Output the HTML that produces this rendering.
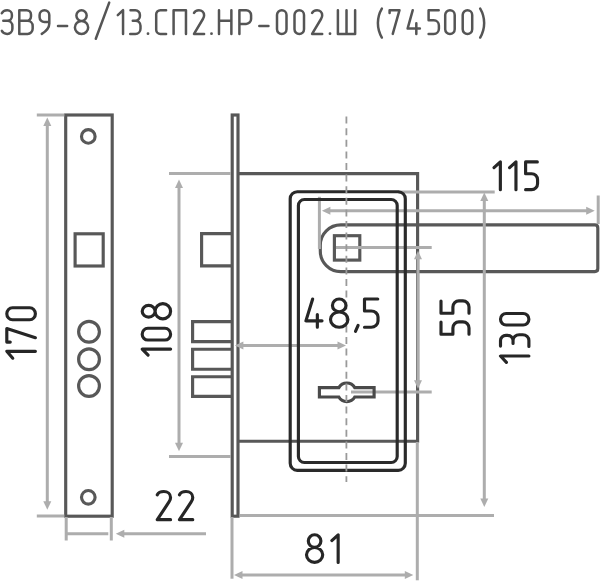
<!DOCTYPE html>
<html><head><meta charset="utf-8"><title>Lock</title>
<style>html,body{margin:0;padding:0;background:#fff;width:600px;height:581px;overflow:hidden;font-family:"Liberation Sans",sans-serif;}
svg{display:block}</style></head>
<body><svg width="600" height="581" viewBox="0 0 600 581"><path transform="translate(1.80,10.20) scale(0.9900,0.9875)" d="M0,3.1 C0.9,1.1 2.9,0 5.4,0 H5.6 A4.6,4.6 0 0 1 10.2,4.6 V6.2 A4.6,4.6 0 0 1 5.6,10.8 H1.5 M5.6,10.8 A5.1,5.1 0 0 1 10.7,15.9 V18.9 A5.1,5.1 0 0 1 5.6,24 H5.4 C2.9,24 0.9,22.9 0,20.9" fill="none" stroke="#555" stroke-width="2.5" vector-effect="non-scaling-stroke" stroke-linecap="round" stroke-linejoin="round"/><path transform="translate(19.30,10.20) scale(0.9900,0.9875)" d="M0,24 V0 H7.4 A4.4,4.4 0 0 1 11.8,4.4 V6.4 A4.4,4.4 0 0 1 7.4,10.8 H0 M7.4,10.8 H8.4 A5.1,5.1 0 0 1 13.5,15.9 V18.9 A5.1,5.1 0 0 1 8.4,24 H0" fill="none" stroke="#555" stroke-width="2.5" vector-effect="non-scaling-stroke" stroke-linecap="round" stroke-linejoin="round"/><path transform="translate(39.60,10.20) scale(0.9900,0.9875)" d="M9.8,4.9 A4.9,4.9 0 0 0 0,4.9 V7.2 A4.8,4.8 0 0 0 4.8,12 H9.8 M9.8,4.9 V13.5 C9.8,17.5 7.2,21 2.2,24" fill="none" stroke="#555" stroke-width="2.5" vector-effect="non-scaling-stroke" stroke-linecap="round" stroke-linejoin="round"/><path transform="translate(58.00,10.20) scale(0.9900,0.9875)" d="M0,16 H9.2" fill="none" stroke="#555" stroke-width="2.5" vector-effect="non-scaling-stroke" stroke-linecap="round" stroke-linejoin="round"/><path transform="translate(74.90,10.20) scale(0.9900,0.9875)" d="M6.7,10.9 A5.2,5.45 0 1 1 6.7,0 A5.2,5.45 0 1 1 6.7,10.9 Z M6.7,10.9 A6.7,6.55 0 1 1 6.7,24 A6.7,6.55 0 1 1 6.7,10.9 Z" fill="none" stroke="#555" stroke-width="2.5" vector-effect="non-scaling-stroke" stroke-linecap="round" stroke-linejoin="round"/><path transform="translate(117.80,10.20) scale(0.9900,0.9875)" d="M0,5.0 L5.3,0 V24" fill="none" stroke="#555" stroke-width="2.5" vector-effect="non-scaling-stroke" stroke-linecap="round" stroke-linejoin="round"/><path transform="translate(130.20,10.20) scale(0.9900,0.9875)" d="M0.3,0 H5.2 A4.6,4.6 0 0 1 9.8,4.6 V6 A4.6,4.6 0 0 1 5.2,10.6 H2.6 M5.2,10.6 A5.2,5.2 0 0 1 10.4,15.8 V18.8 A5.2,5.2 0 0 1 5.2,24 H0" fill="none" stroke="#555" stroke-width="2.5" vector-effect="non-scaling-stroke" stroke-linecap="round" stroke-linejoin="round"/><circle cx="148.00" cy="33.70" r="1.38" fill="#555"/><path transform="translate(156.20,10.20) scale(0.9900,0.9875)" d="M10,0 H4.2 A4.2,4.2 0 0 0 0,4.2 V19.8 A4.2,4.2 0 0 0 4.2,24 H10" fill="none" stroke="#555" stroke-width="2.5" vector-effect="non-scaling-stroke" stroke-linecap="round" stroke-linejoin="round"/><path transform="translate(173.60,10.20) scale(0.9900,0.9875)" d="M0,24 V0 H12.5 V24" fill="none" stroke="#555" stroke-width="2.5" vector-effect="non-scaling-stroke" stroke-linecap="round" stroke-linejoin="round"/><path transform="translate(194.00,10.20) scale(0.9900,0.9875)" d="M0,2.8 C0.8,1 2.6,0 5,0 C7.9,0 10.2,2.1 10.2,5.1 C10.2,6.6 9.7,7.8 9,8.9 L0,24 H10.2" fill="none" stroke="#555" stroke-width="2.5" vector-effect="non-scaling-stroke" stroke-linecap="round" stroke-linejoin="round"/><circle cx="211.50" cy="33.70" r="1.38" fill="#555"/><path transform="translate(219.00,10.20) scale(0.9900,0.9875)" d="M0,0 V24 M12.5,0 V24 M0,10.6 H12.5" fill="none" stroke="#555" stroke-width="2.5" vector-effect="non-scaling-stroke" stroke-linecap="round" stroke-linejoin="round"/><path transform="translate(239.40,10.20) scale(0.9900,0.9875)" d="M0,24 V0 H6.8 A5,5 0 0 1 11.8,5 V8.9 A5,5 0 0 1 6.8,13.9 H0" fill="none" stroke="#555" stroke-width="2.5" vector-effect="non-scaling-stroke" stroke-linecap="round" stroke-linejoin="round"/><path transform="translate(259.30,10.20) scale(0.9900,0.9875)" d="M0,16 H9.2" fill="none" stroke="#555" stroke-width="2.5" vector-effect="non-scaling-stroke" stroke-linecap="round" stroke-linejoin="round"/><path transform="translate(277.00,10.20) scale(0.9900,0.9875)" d="M0,4.8 A4.8,4.8 0 0 1 9.6,4.8 V19.2 A4.8,4.8 0 0 1 0,19.2 Z" fill="none" stroke="#555" stroke-width="2.5" vector-effect="non-scaling-stroke" stroke-linecap="round" stroke-linejoin="round"/><path transform="translate(294.50,10.20) scale(0.9900,0.9875)" d="M0,4.8 A4.8,4.8 0 0 1 9.6,4.8 V19.2 A4.8,4.8 0 0 1 0,19.2 Z" fill="none" stroke="#555" stroke-width="2.5" vector-effect="non-scaling-stroke" stroke-linecap="round" stroke-linejoin="round"/><path transform="translate(312.10,10.20) scale(0.9900,0.9875)" d="M0,2.8 C0.8,1 2.6,0 5,0 C7.9,0 10.2,2.1 10.2,5.1 C10.2,6.6 9.7,7.8 9,8.9 L0,24 H10.2" fill="none" stroke="#555" stroke-width="2.5" vector-effect="non-scaling-stroke" stroke-linecap="round" stroke-linejoin="round"/><circle cx="330.00" cy="33.70" r="1.38" fill="#555"/><path transform="translate(337.90,10.20) scale(0.9900,0.9875)" d="M0,0 V24 H17.4 V0 M8.7,0 V24" fill="none" stroke="#555" stroke-width="2.5" vector-effect="non-scaling-stroke" stroke-linecap="round" stroke-linejoin="round"/><path transform="translate(377.90,10.20) scale(0.9900,0.9875)" d="M4.0,-1.7 A29,29 0 0 0 4.0,27.7" fill="none" stroke="#555" stroke-width="2.5" vector-effect="non-scaling-stroke" stroke-linecap="round" stroke-linejoin="round"/><path transform="translate(389.60,10.20) scale(0.9900,0.9875)" d="M0,2.9 V0 H10 L3.2,24" fill="none" stroke="#555" stroke-width="2.5" vector-effect="non-scaling-stroke" stroke-linecap="round" stroke-linejoin="round"/><path transform="translate(407.60,10.20) scale(0.9900,0.9875)" d="M5.2,0 L0,18.6 H12.4 M8.8,13.2 V24" fill="none" stroke="#555" stroke-width="2.5" vector-effect="non-scaling-stroke" stroke-linecap="round" stroke-linejoin="round"/><path transform="translate(428.60,10.20) scale(0.9900,0.9875)" d="M10.2,0 H0 V10.2 H5.2 A5.2,5.2 0 0 1 10.4,15.4 V18.8 A5.2,5.2 0 0 1 5.2,24 H0" fill="none" stroke="#555" stroke-width="2.5" vector-effect="non-scaling-stroke" stroke-linecap="round" stroke-linejoin="round"/><path transform="translate(445.20,10.20) scale(0.9900,0.9875)" d="M0,4.8 A4.8,4.8 0 0 1 9.6,4.8 V19.2 A4.8,4.8 0 0 1 0,19.2 Z" fill="none" stroke="#555" stroke-width="2.5" vector-effect="non-scaling-stroke" stroke-linecap="round" stroke-linejoin="round"/><path transform="translate(462.70,10.20) scale(0.9900,0.9875)" d="M0,4.8 A4.8,4.8 0 0 1 9.6,4.8 V19.2 A4.8,4.8 0 0 1 0,19.2 Z" fill="none" stroke="#555" stroke-width="2.5" vector-effect="non-scaling-stroke" stroke-linecap="round" stroke-linejoin="round"/><path transform="translate(480.20,10.20) scale(0.9900,0.9875)" d="M0,-1.7 A29,29 0 0 1 0,27.7" fill="none" stroke="#555" stroke-width="2.5" vector-effect="non-scaling-stroke" stroke-linecap="round" stroke-linejoin="round"/><line x1="95.8" y1="38.8" x2="109.2" y2="2.6" stroke="#555" stroke-width="2.5" stroke-linecap="round"/><rect x="65.7" y="115" width="46.5" height="401.2" fill="none" stroke="#585858" stroke-width="3.15"/><circle cx="88.3" cy="136.4" r="6.8" fill="none" stroke="#585858" stroke-width="3.15"/><circle cx="88.3" cy="497.3" r="6.8" fill="none" stroke="#585858" stroke-width="3.15"/><rect x="75.1" y="233.8" width="28.1" height="32.2" fill="none" stroke="#585858" stroke-width="3.15"/><circle cx="89" cy="331.8" r="10.4" fill="none" stroke="#585858" stroke-width="3.15"/><circle cx="89" cy="359.2" r="10.4" fill="none" stroke="#585858" stroke-width="3.15"/><circle cx="89" cy="386.0" r="10.4" fill="none" stroke="#585858" stroke-width="3.15"/><rect x="232.2" y="115" width="5.8" height="401.2" fill="none" stroke="#585858" stroke-width="3.15"/><polyline points="238.0,173.6 417.6,173.6 417.6,441.2 238.0,441.2" fill="none" stroke="#585858" stroke-width="3.15"/><polyline points="232.2,233.6 201.6,233.6 201.6,265.9 232.2,265.9" fill="none" stroke="#585858" stroke-width="3.15"/><polyline points="232.2,321.6 192.6,321.6 192.6,341.6 232.2,341.6" fill="none" stroke="#585858" stroke-width="3.15"/><polyline points="232.2,349.2 192.6,349.2 192.6,369.2 232.2,369.2" fill="none" stroke="#585858" stroke-width="3.15"/><polyline points="232.2,376.7 192.6,376.7 192.6,396.4 232.2,396.4" fill="none" stroke="#585858" stroke-width="3.15"/><path d="M340.8,224.9 H594.8 Q597.8,224.9 597.8,227.9 V268.6 Q597.8,271.6 594.8,271.6 H340.8 A20.5,20.5 0 0 1 320.3,251.10000000000002 V245.4 A20.5,20.5 0 0 1 340.8,224.9 Z" fill="none" stroke="#585858" stroke-width="3.15"/><rect x="334.4" y="235.7" width="25.4" height="24.4" fill="none" stroke="#585858" stroke-width="3.15"/><line x1="36.8" y1="115" x2="64.3" y2="115" stroke="#adadad" stroke-width="3.0" /><line x1="36.8" y1="516" x2="64.3" y2="516" stroke="#adadad" stroke-width="3.0" /><line x1="47.3" y1="124" x2="47.3" y2="503" stroke="#adadad" stroke-width="3.0" /><polygon points="47.30,117.40 43.30,125.90 51.30,125.90" fill="#adadad"/><polygon points="47.30,509.70 43.30,501.20 51.30,501.20" fill="#adadad"/><line x1="66.2" y1="517" x2="66.2" y2="540.5" stroke="#adadad" stroke-width="3.0" /><line x1="111.3" y1="517" x2="111.3" y2="540.5" stroke="#adadad" stroke-width="3.0" /><line x1="66.2" y1="533.8" x2="108.3" y2="533.8" stroke="#adadad" stroke-width="3.0" /><line x1="123" y1="533.8" x2="206" y2="533.8" stroke="#adadad" stroke-width="3.0" /><polygon points="115.80,533.80 124.30,529.80 124.30,537.80" fill="#adadad"/><line x1="169" y1="173.6" x2="231" y2="173.6" stroke="#adadad" stroke-width="3.0" /><line x1="169" y1="456.6" x2="231" y2="456.6" stroke="#adadad" stroke-width="3.0" /><line x1="179" y1="186" x2="179" y2="444" stroke="#adadad" stroke-width="3.0" /><polygon points="179.00,179.50 175.00,188.00 183.00,188.00" fill="#adadad"/><polygon points="179.00,451.20 175.00,442.70 183.00,442.70" fill="#adadad"/><line x1="242" y1="345.6" x2="339" y2="345.6" stroke="#adadad" stroke-width="3.0" /><polygon points="234.90,345.60 243.40,341.60 243.40,349.60" fill="#adadad"/><polygon points="346.00,345.60 337.50,341.60 337.50,349.60" fill="#adadad"/><line x1="319.4" y1="196.8" x2="319.4" y2="249" stroke="#adadad" stroke-width="3.0" /><line x1="598.2" y1="195.5" x2="598.2" y2="224" stroke="#adadad" stroke-width="3.0" /><line x1="330" y1="210.8" x2="587" y2="210.8" stroke="#adadad" stroke-width="3.0" /><polygon points="321.90,210.80 330.40,206.80 330.40,214.80" fill="#adadad"/><polygon points="594.70,210.80 586.20,206.80 586.20,214.80" fill="#adadad"/><line x1="336" y1="247.4" x2="431.7" y2="247.4" stroke="#adadad" stroke-width="3.0" /><line x1="351" y1="392" x2="431.7" y2="392" stroke="#adadad" stroke-width="3.0" /><line x1="418" y1="258" x2="418" y2="382" stroke="#adadad" stroke-width="3.0" /><polygon points="418.00,250.80 414.00,259.30 422.00,259.30" fill="#adadad"/><polygon points="418.00,388.80 414.00,380.30 422.00,380.30" fill="#adadad"/><line x1="398" y1="192" x2="494.7" y2="192" stroke="#adadad" stroke-width="3.0" /><line x1="240" y1="515.6" x2="494" y2="515.6" stroke="#adadad" stroke-width="3.0" /><line x1="484.3" y1="200" x2="484.3" y2="499" stroke="#adadad" stroke-width="3.0" /><polygon points="484.30,192.60 480.30,201.10 488.30,201.10" fill="#adadad"/><polygon points="484.30,507.00 480.30,498.50 488.30,498.50" fill="#adadad"/><line x1="232.0" y1="517" x2="232.0" y2="578.7" stroke="#adadad" stroke-width="3.0" /><line x1="417.3" y1="442" x2="417.3" y2="580.3" stroke="#adadad" stroke-width="3.0" /><line x1="241" y1="575" x2="406" y2="575" stroke="#adadad" stroke-width="3.0" /><polygon points="234.00,575.00 242.50,571.00 242.50,579.00" fill="#adadad"/><polygon points="413.30,575.00 404.80,571.00 404.80,579.00" fill="#adadad"/><rect x="290.2" y="191.7" width="115.1" height="278.6" rx="7" fill="none" stroke="#2a2a2a" stroke-width="3.15"/><rect x="298.4" y="199.5" width="98.8" height="263.0" rx="6" fill="none" stroke="#2a2a2a" stroke-width="3.15"/><path d="M319.4,387.6 H338.83 A9.2,9.2 0 0 1 354.77,387.6 H374.1 V397.0 H354.77 A9.2,9.2 0 0 1 338.83,397.0 H319.4 Z" fill="none" stroke="#4a4a4a" stroke-width="3.15"/><line x1="346.4" y1="116.6" x2="346.4" y2="482" stroke="#9a9a9a" stroke-width="1.8" stroke-dasharray="7 4.6"/><path transform="translate(306.50,534.80) scale(1.2100,1.1500)" d="M6.7,10.9 A5.2,5.45 0 1 1 6.7,0 A5.2,5.45 0 1 1 6.7,10.9 Z M6.7,10.9 A6.7,6.55 0 1 1 6.7,24 A6.7,6.55 0 1 1 6.7,10.9 Z" fill="none" stroke="#262626" stroke-width="3.15" vector-effect="non-scaling-stroke" stroke-linecap="round" stroke-linejoin="round"/><path transform="translate(331.80,534.80) scale(1.2000,1.1500)" d="M0,5.0 L5.3,0 V24" fill="none" stroke="#262626" stroke-width="3.15" vector-effect="non-scaling-stroke" stroke-linecap="round" stroke-linejoin="round"/><path transform="translate(157.30,491.50) scale(1.3000,1.1750)" d="M0,2.8 C0.8,1 2.6,0 5,0 C7.9,0 10.2,2.1 10.2,5.1 C10.2,6.6 9.7,7.8 9,8.9 L0,24 H10.2" fill="none" stroke="#262626" stroke-width="3.15" vector-effect="non-scaling-stroke" stroke-linecap="round" stroke-linejoin="round"/><path transform="translate(179.50,491.50) scale(1.3000,1.1750)" d="M0,2.8 C0.8,1 2.6,0 5,0 C7.9,0 10.2,2.1 10.2,5.1 C10.2,6.6 9.7,7.8 9,8.9 L0,24 H10.2" fill="none" stroke="#262626" stroke-width="3.15" vector-effect="non-scaling-stroke" stroke-linecap="round" stroke-linejoin="round"/><path transform="translate(494.00,161.90) scale(1.2000,1.1583)" d="M0,5.0 L5.3,0 V24" fill="none" stroke="#262626" stroke-width="3.15" vector-effect="non-scaling-stroke" stroke-linecap="round" stroke-linejoin="round"/><path transform="translate(509.60,161.90) scale(1.2000,1.1583)" d="M0,5.0 L5.3,0 V24" fill="none" stroke="#262626" stroke-width="3.15" vector-effect="non-scaling-stroke" stroke-linecap="round" stroke-linejoin="round"/><path transform="translate(525.60,161.90) scale(1.1500,1.1583)" d="M10.2,0 H0 V10.2 H5.2 A5.2,5.2 0 0 1 10.4,15.4 V18.8 A5.2,5.2 0 0 1 5.2,24 H0" fill="none" stroke="#262626" stroke-width="3.15" vector-effect="non-scaling-stroke" stroke-linecap="round" stroke-linejoin="round"/><path transform="translate(305.90,299.00) scale(1.3000,1.1750)" d="M5.2,0 L0,18.6 H12.4 M8.8,13.2 V24" fill="none" stroke="#262626" stroke-width="3.15" vector-effect="non-scaling-stroke" stroke-linecap="round" stroke-linejoin="round"/><path transform="translate(330.50,299.00) scale(1.3000,1.1750)" d="M6.7,10.9 A5.2,5.45 0 1 1 6.7,0 A5.2,5.45 0 1 1 6.7,10.9 Z M6.7,10.9 A6.7,6.55 0 1 1 6.7,24 A6.7,6.55 0 1 1 6.7,10.9 Z" fill="none" stroke="#262626" stroke-width="3.15" vector-effect="non-scaling-stroke" stroke-linecap="round" stroke-linejoin="round"/><path transform="translate(355.50,299.00) scale(1.3000,1.1750)" d="M2,22.5 L0,27.5" fill="none" stroke="#262626" stroke-width="3.15" vector-effect="non-scaling-stroke" stroke-linecap="round" stroke-linejoin="round"/><path transform="translate(364.50,299.00) scale(1.3000,1.1750)" d="M10.2,0 H0 V10.2 H5.2 A5.2,5.2 0 0 1 10.4,15.4 V18.8 A5.2,5.2 0 0 1 5.2,24 H0" fill="none" stroke="#262626" stroke-width="3.15" vector-effect="non-scaling-stroke" stroke-linecap="round" stroke-linejoin="round"/><g transform="translate(6.8,359.4) rotate(-90)"><path transform="translate(1.20,0.00) scale(1.3000,1.1917)" d="M0,5.0 L5.3,0 V24" fill="none" stroke="#262626" stroke-width="3.15" vector-effect="non-scaling-stroke" stroke-linecap="round" stroke-linejoin="round"/><path transform="translate(17.30,0.00) scale(1.3600,1.1917)" d="M0,2.9 V0 H10 L3.2,24" fill="none" stroke="#262626" stroke-width="3.15" vector-effect="non-scaling-stroke" stroke-linecap="round" stroke-linejoin="round"/><path transform="translate(39.60,0.00) scale(1.2600,1.1917)" d="M0,4.8 A4.8,4.8 0 0 1 9.6,4.8 V19.2 A4.8,4.8 0 0 1 0,19.2 Z" fill="none" stroke="#262626" stroke-width="3.15" vector-effect="non-scaling-stroke" stroke-linecap="round" stroke-linejoin="round"/></g><g transform="translate(142.2,357.2) rotate(-90)"><path transform="translate(2.00,0.00) scale(1.1500,1.1833)" d="M0,5.0 L5.3,0 V24" fill="none" stroke="#262626" stroke-width="3.15" vector-effect="non-scaling-stroke" stroke-linecap="round" stroke-linejoin="round"/><path transform="translate(17.20,0.00) scale(1.2200,1.1833)" d="M0,4.8 A4.8,4.8 0 0 1 9.6,4.8 V19.2 A4.8,4.8 0 0 1 0,19.2 Z" fill="none" stroke="#262626" stroke-width="3.15" vector-effect="non-scaling-stroke" stroke-linecap="round" stroke-linejoin="round"/><path transform="translate(38.40,0.00) scale(1.1300,1.1833)" d="M6.7,10.9 A5.2,5.45 0 1 1 6.7,0 A5.2,5.45 0 1 1 6.7,10.9 Z M6.7,10.9 A6.7,6.55 0 1 1 6.7,24 A6.7,6.55 0 1 1 6.7,10.9 Z" fill="none" stroke="#262626" stroke-width="3.15" vector-effect="non-scaling-stroke" stroke-linecap="round" stroke-linejoin="round"/></g><g transform="translate(441.0,334.2) rotate(-90)"><path transform="translate(0.00,0.00) scale(1.1900,1.1667)" d="M10.2,0 H0 V10.2 H5.2 A5.2,5.2 0 0 1 10.4,15.4 V18.8 A5.2,5.2 0 0 1 5.2,24 H0" fill="none" stroke="#262626" stroke-width="3.15" vector-effect="non-scaling-stroke" stroke-linecap="round" stroke-linejoin="round"/><path transform="translate(21.00,0.00) scale(1.1900,1.1667)" d="M10.2,0 H0 V10.2 H5.2 A5.2,5.2 0 0 1 10.4,15.4 V18.8 A5.2,5.2 0 0 1 5.2,24 H0" fill="none" stroke="#262626" stroke-width="3.15" vector-effect="non-scaling-stroke" stroke-linecap="round" stroke-linejoin="round"/></g><g transform="translate(500.5,362.4) rotate(-90)"><path transform="translate(0.00,0.00) scale(1.2000,1.1833)" d="M0,5.0 L5.3,0 V24" fill="none" stroke="#262626" stroke-width="3.15" vector-effect="non-scaling-stroke" stroke-linecap="round" stroke-linejoin="round"/><path transform="translate(16.00,0.00) scale(1.1200,1.1833)" d="M0.3,0 H5.2 A4.6,4.6 0 0 1 9.8,4.6 V6 A4.6,4.6 0 0 1 5.2,10.6 H2.6 M5.2,10.6 A5.2,5.2 0 0 1 10.4,15.8 V18.8 A5.2,5.2 0 0 1 5.2,24 H0" fill="none" stroke="#262626" stroke-width="3.15" vector-effect="non-scaling-stroke" stroke-linecap="round" stroke-linejoin="round"/><path transform="translate(37.40,0.00) scale(1.2000,1.1833)" d="M0,4.8 A4.8,4.8 0 0 1 9.6,4.8 V19.2 A4.8,4.8 0 0 1 0,19.2 Z" fill="none" stroke="#262626" stroke-width="3.15" vector-effect="non-scaling-stroke" stroke-linecap="round" stroke-linejoin="round"/></g></svg></body></html>
